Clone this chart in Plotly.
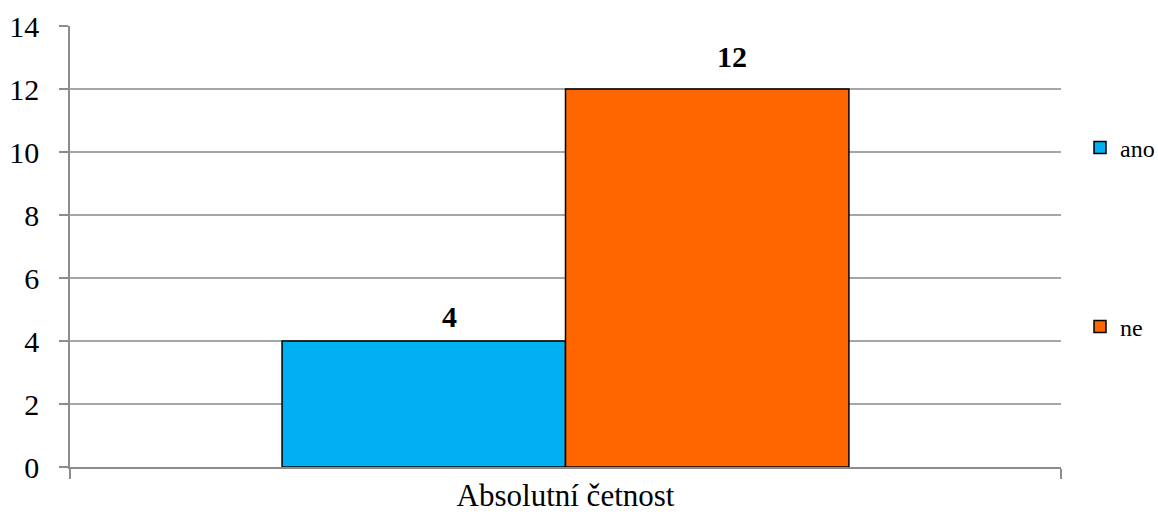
import plotly.graph_objects as go

# Survey answers: absolute frequency of "ano" / "ne"
category = ["Absolutní četnost"]
series_names = ["ano", "ne"]
series_values = [[4], [12]]
series_colors = ["#00B0F0", "#FF6600"]
label_offsets = [25, 33]  # vertical offset of value labels above bar tops (px)
y_ticks = [0, 2, 4, 6, 8, 10, 12, 14]

SERIF = "Liberation Serif"

fig = go.Figure()
legend_ids = ["legend", "legend2"]
for name, vals, color, lg in zip(series_names, series_values, series_colors, legend_ids):
    fig.add_trace(go.Bar(
        name=name,
        x=category,
        y=vals,
        marker=dict(color=color, line=dict(color="#000000", width=1.5)),
        legend=lg,
        offsetgroup=name,
    ))

# bold value labels above each bar (sitting slightly right of bar centre)
annotations = []
for i, (vals, dy) in enumerate(zip(series_values, label_offsets)):
    annotations.append(dict(
        x=category[0], y=vals[0], xref="x", yref="y",
        text=f"<b>{vals[0]}</b>", showarrow=False,
        xshift=(-1 if i == 0 else 1) * 141.5 + 25, yshift=dy,
        yanchor="middle",
        font=dict(family=SERIF, size=30, color="#000000"),
    ))

fig.update_layout(
    width=1158, height=517,
    margin=dict(l=70, r=97, t=26, b=50, autoexpand=False),
    paper_bgcolor="white", plot_bgcolor="white",
    barmode="group", bargap=0.428, bargroupgap=0,
    font=dict(family=SERIF, size=30, color="#000000"),
    annotations=annotations,
    legend=dict(xref="container", yref="container",
                x=1080 / 1158, y=1 - 148 / 517, xanchor="left", yanchor="middle",
                font=dict(family=SERIF, size=24), bgcolor="rgba(0,0,0,0)"),
    legend2=dict(xref="container", yref="container",
                 x=1080 / 1158, y=1 - 327 / 517, xanchor="left", yanchor="middle",
                 font=dict(family=SERIF, size=24), bgcolor="rgba(0,0,0,0)"),
    showlegend=True,
)

fig.update_xaxes(
    type="category",
    showline=True, linecolor="#8c8c8c", linewidth=1.5,
    ticks="outside", tickson="boundaries", ticklen=10, tickcolor="#8c8c8c", tickwidth=1.5,
    tickfont=dict(family=SERIF, size=31),
    showgrid=False,
)
fig.update_yaxes(
    range=[0, 14], tickvals=y_ticks,
    showline=True, linecolor="#8c8c8c", linewidth=1.5,
    ticks="outside", ticklen=9, tickcolor="#8c8c8c", tickwidth=1.5,
    showgrid=True, gridcolor="#a6a6a6", gridwidth=1.5,
    zeroline=False,
    tickfont=dict(family=SERIF, size=30),
    ticklabelstandoff=14,
)

fig.write_html("out.html")
